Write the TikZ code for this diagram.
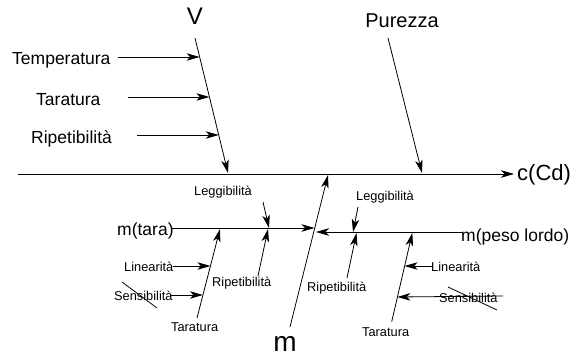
\documentclass[tikz,border=0pt]{standalone}
\usepackage{fontspec}
\setmainfont{Liberation Sans}
\usetikzlibrary{arrows.meta}
\begin{document}
\begin{tikzpicture}[x=1pt,y=-1pt,
  bone/.style={line width=0.8pt},
  arr/.style={line width=0.8pt,-{Stealth[length=13pt,width=7.5pt,inset=3.5pt]}},
  lbl/.style={inner sep=0pt},
  big/.style={lbl,font=\fontsize{17.5}{20}\selectfont},
  small/.style={lbl,font=\fontsize{12.8}{15}\selectfont},
]
\useasboundingbox (0,0) rectangle (581,358);

% ---- labels ----
\node[big,anchor=base west] (temp) at (12,65) {Temperatura};
\node[big,anchor=base west] (tarV) at (36,106) {Taratura};
\node[big,anchor=base west] (ripV) at (31,144) {Ripetibilità};
\node[lbl,font=\fontsize{24}{28}\selectfont,anchor=base] (V) at (195,25) {V};
\node[lbl,font=\fontsize{20}{24}\selectfont,anchor=base] (pur) at (402,28) {Purezza};
\node[lbl,font=\fontsize{22}{26}\selectfont,anchor=base west] (cCd) at (517,181) {c(Cd)};
\node[lbl,font=\fontsize{28}{32}\selectfont,anchor=base] (m) at (285,351) {m};
\node[big,anchor=base west] (mt) at (117,236) {m(tara)};
\node[big,anchor=base west] (mp) at (461,242) {m(peso lordo)};

\node[small,anchor=base west] (legL) at (194,196) {Leggibilità};
\node[small,anchor=base west] (ripL) at (212,287) {Ripetibilità};
\node[small,anchor=base west] (tarL) at (171,331) {Taratura};
\node[small,anchor=base west] (linL) at (124,271) {Linearità};
\node[small,anchor=base west] (senL) at (114,300) {Sensibilità};
\node[small,anchor=base west] (legR) at (356,201) {Leggibilità};
\node[small,anchor=base west] (ripR) at (307,291) {Ripetibilità};
\node[small,anchor=base west] (tarR) at (362,336) {Taratura};
\node[small,anchor=base west] (linR) at (431,271) {Linearità};
\node[small,anchor=base west] (senR) at (439,302) {Sensibilità};

% ---- coordinates ----
\coordinate (s0) at (18,174);
\coordinate (s1) at (514,174);
\coordinate (Va) at (195,38);
\coordinate (Vb) at (228,173);
\coordinate (Pa) at (388,38);
\coordinate (Pb) at (422,173);
\coordinate (Ma) at (290,327);
\coordinate (Mb) at (328,175);

\coordinate (tempS) at (118,57);   \coordinate (tempE) at (199.6,57);
\coordinate (tarVS) at (128,97);   \coordinate (tarVE) at (209.4,97);
\coordinate (ripVS) at (137,135);  \coordinate (ripVE) at (218.7,135);

\coordinate (mtS) at (172,228);    \coordinate (mtE) at (314.5,228);
\coordinate (mpS) at (463,232);    \coordinate (mpE) at (316,232);

\coordinate (tarLa) at (197,318);  \coordinate (tarLb) at (220,229);
\coordinate (linLS) at (173,266);  \coordinate (linLE) at (210.4,266);
\coordinate (senLS) at (170,295);  \coordinate (senLE) at (202.9,295);
\coordinate (legLa) at (263,202);  \coordinate (legLb) at (269,228);
\coordinate (ripLa) at (258,276);  \coordinate (ripLb) at (268,229);
\coordinate (stLa) at (122,282);   \coordinate (stLb) at (157,308);

\coordinate (tarRa) at (391.7,321.7); \coordinate (tarRb) at (412.3,233);
\coordinate (linRS) at (432,266);  \coordinate (linRE) at (404.6,266);
\coordinate (senRS) at (503,296);  \coordinate (senRE) at (397.4,297);
\coordinate (legRa) at (358,207);  \coordinate (legRb) at (353,232);
\coordinate (ripRa) at (347,278);  \coordinate (ripRb) at (356.5,233);
\coordinate (stRa) at (448,287);   \coordinate (stRb) at (497,310);

% ---- spine and main bones ----
\draw[arr] (s0) -- (s1);
\draw[arr] (Va) -- (Vb);
\draw[arr] (Pa) -- (Pb);
\draw[arr] (Ma) -- (Mb);

\draw[arr] (tempS) -- (tempE);
\draw[arr] (tarVS) -- (tarVE);
\draw[arr] (ripVS) -- (ripVE);

% ---- m sub-bones ----
\draw[arr] (mtS) -- (mtE);
\draw[arr] (mpS) -- (mpE);

\draw[arr] (tarLa) -- (tarLb);
\draw[arr] (linLS) -- (linLE);
\draw[arr] (senLS) -- (senLE);
\draw[arr] (legLa) -- (legLb);
\draw[arr] (ripLa) -- (ripLb);
\draw[bone] (stLa) -- (stLb);

\draw[arr] (tarRa) -- (tarRb);
\draw[arr] (linRS) -- (linRE);
\draw[arr] (senRS) -- (senRE);
\draw[arr] (legRa) -- (legRb);
\draw[arr] (ripRa) -- (ripRb);
\draw[bone] (stRa) -- (stRb);
\end{tikzpicture}
\end{document}
